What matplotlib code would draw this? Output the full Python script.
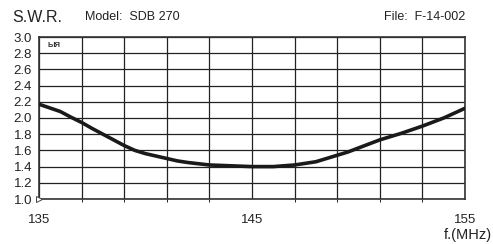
import numpy as np
import matplotlib
matplotlib.use("Agg")
import matplotlib.pyplot as plt

# SWR readings (every 0.5 MHz)
freq = [135, 135.5, 136, 136.5, 137, 137.5, 138, 138.5, 139, 139.5, 140,
        140.5, 141, 141.5, 142, 142.5, 143, 143.5, 144, 144.5, 145,
        145.5, 146, 146.5, 147, 147.5, 148, 148.5, 149, 149.5, 150,
        150.5, 151, 151.5, 152, 152.5, 153, 153.5, 154, 154.5, 155]
swr = [2.17, 2.125, 2.08, 2.01, 1.945, 1.87, 1.80, 1.73, 1.66, 1.60, 1.56,
       1.53, 1.50, 1.47, 1.45, 1.435, 1.42, 1.415, 1.41, 1.405, 1.40,
       1.40, 1.40, 1.41, 1.42, 1.44, 1.46, 1.50, 1.54, 1.58, 1.63,
       1.68, 1.73, 1.77, 1.81, 1.855, 1.90, 1.95, 2.00, 2.06, 2.12]

xticks = [135, 145, 155]
yticks = [1.0, 1.2, 1.4, 1.6, 1.8, 2.0, 2.2, 2.4, 2.6, 2.8, 3.0]

plt.rcParams['font.family'] = ['Liberation Sans', 'DejaVu Sans']

fig = plt.figure(figsize=(4.93, 2.44), dpi=100)
ax = fig.add_axes([39/493, 1 - 199/244, 426/493, 162/244])

ax.plot(freq, swr, color='#1a1a1a', lw=2.6, solid_capstyle='round',
        solid_joinstyle='round', zorder=3)

ax.set_xlim(135, 155)
ax.set_ylim(1.0, 3.0)
ax.set_xticks(np.arange(135, 156, 2), minor=True)
ax.set_xticks(xticks)
ax.set_xticklabels([str(t) for t in xticks], fontsize=9.5, color='#222222')
ax.set_yticks(yticks)
ax.set_yticklabels(['%.1f' % t for t in yticks], fontsize=9.5, color='#222222')
ax.tick_params(length=0, pad=5)
ax.tick_params(axis='x', pad=11)
ax.grid(True, which='both', color='#222222', lw=0.9)
for s in ax.spines.values():
    s.set_linewidth(1.2)
    s.set_color('#333333')

# small marker at 1.0 and the logo in the corner
ax.plot([135], [1.0], marker='>', ms=4, mfc='white', mec='#444444', mew=0.7,
        clip_on=False, zorder=4)
ax.text(135.4, 2.9, 'ЫЯ', fontsize=5.5, fontweight='bold', color='#333333',
        va='center', ha='left')

fig.text(12/493, 1 - 17/244, 'S.W.R.', fontsize=11.5, color='#222222', va='center')
fig.text(85/493, 1 - 17/244, 'Model:  SDB 270', fontsize=9, color='#222222', va='center')
fig.text(465/493, 1 - 17/244, 'File:  F-14-002', fontsize=9, color='#222222',
         va='center', ha='right')
fig.text(492/493, 1 - 235/244, 'f.(MHz)', fontsize=10.5, color='#222222',
         va='center', ha='right')

fig.savefig('out.png', dpi=100)
